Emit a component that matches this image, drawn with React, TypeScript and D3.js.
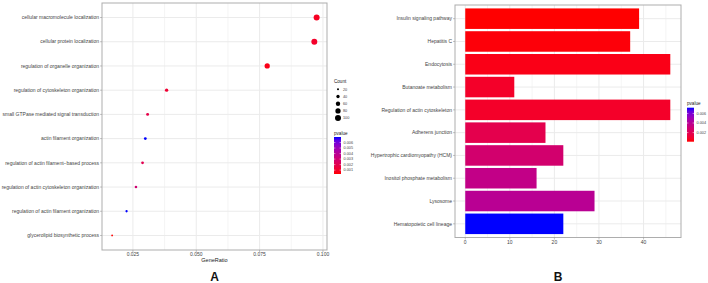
import * as d3 from 'd3';

// Panel A: GO enrichment dot plot
const goTerms = [
	'cellular macromolecule localization',
	'cellular protein localization',
	'regulation of organelle organization',
	'regulation of cytoskeleton organization',
	'small GTPase mediated signal transduction',
	'actin filament organization',
	'regulation of actin filament−based process',
	'regulation of actin cytoskeleton organization',
	'regulation of actin filament organization',
	'glycerolipid biosynthetic process',
];
const goRatio = [0.0975, 0.0966, 0.078, 0.0383, 0.0308, 0.0299, 0.0288, 0.0262, 0.0225, 0.0168];
const goCount = [100, 99, 80, 39, 32, 31, 30, 27, 23, 17];
const goPvalue = [0.0008, 0.001, 0.0006, 0.0012, 0.0018, 0.007, 0.002, 0.003, 0.007, 0.0003];
const goTicks = [0.025, 0.05, 0.075, 0.1];
const countLegend = [20, 40, 60, 80, 100];
const goPLegend = [0.006, 0.005, 0.004, 0.003, 0.002, 0.001];

// Panel B: KEGG bar chart
const keggTerms = [
	'Insulin signaling pathway',
	'Hepatitis C',
	'Endocytosis',
	'Butanoate metabolism',
	'Regulation of actin cytoskeleton',
	'Adherens junction',
	'Hypertrophic cardiomyopathy (HCM)',
	'Inositol phosphate metabolism',
	'Lysosome',
	'Hematopoietic cell lineage',
];
const keggCount = [39, 37, 46, 11, 46, 18, 22, 16, 29, 22];
const keggPvalue = [0.0001, 0.0002, 0.0004, 0.0008, 0.0008, 0.0018, 0.0028, 0.0036, 0.004, 0.0072];
const keggTicks = [0, 10, 20, 30, 40];
const keggPLegend = [0.006, 0.004, 0.002];

const FONT = 'Liberation Sans, Arial, sans-serif';
const GRID = '#ebebeb';
const BORDER = '#adadad';
const TEXT = '#444';

const colorScale = (vals: number[]) =>
	d3
		.scaleLinear<string>()
		.domain(d3.extent(vals) as [number, number])
		.range(['#ff0000', '#0000ff'])
		.interpolate(d3.interpolateLab);

const ColorBar = ({ id, vals, ticks, x, y0, y1, title }: any) => {
	const c = colorScale(vals);
	const [lo, hi] = d3.extent(vals) as [number, number];
	const ly = d3.scaleLinear().domain([lo, hi]).range([y1, y0]);
	const stops = d3.range(0, 1.0001, 0.1);
	return (
		<g>
			<defs>
				<linearGradient id={id} x1="0" y1="1" x2="0" y2="0">
					{stops.map((t) => (
						<stop key={t} offset={t} stopColor={c(lo + t * (hi - lo))} />
					))}
				</linearGradient>
			</defs>
			<text x={x} y={y0 - 2.5} fontSize={4.6} fill="#222">{title}</text>
			<rect x={x} y={y0} width={7} height={y1 - y0} fill={`url(#${id})`} />
			{ticks.map((t: number) => (
				<g key={t}>
					<line x1={x} x2={x + 1.4} y1={ly(t)} y2={ly(t)} stroke="white" strokeWidth={0.5} />
					<line x1={x + 5.6} x2={x + 7} y1={ly(t)} y2={ly(t)} stroke="white" strokeWidth={0.5} />
					<text x={x + 9.5} y={ly(t)} dy="0.35em" fontSize={3.8} fill={TEXT}>
						{d3.format('.3f')(t)}
					</text>
				</g>
			))}
		</g>
	);
};

const DotPanel = () => {
	const left = 102, right = 327, top = 3, bottom = 250;
	const x = d3.scaleLinear().domain([0.0128, 0.1016]).range([left, right]);
	const y = d3.scalePoint<string>().domain(goTerms).range([top, bottom]).padding(0.6);
	const r = d3.scaleSqrt().domain([17, 100]).range([0.9, 3]);
	const c = colorScale(goPvalue);
	const minor = goTicks.slice(0, -1).map((t, i) => (t + goTicks[i + 1]) / 2);
	return (
		<g>
			{minor.map((t) => (
				<line key={t} x1={x(t)} x2={x(t)} y1={top} y2={bottom} stroke={GRID} strokeWidth={0.5} />
			))}
			{goTicks.map((t) => (
				<line key={t} x1={x(t)} x2={x(t)} y1={top} y2={bottom} stroke={GRID} strokeWidth={1} />
			))}
			{goTerms.map((t) => (
				<line key={t} x1={left} x2={right} y1={y(t)} y2={y(t)} stroke={GRID} strokeWidth={1} />
			))}
			{goTerms.map((t, i) => (
				<circle key={t} cx={x(goRatio[i])} cy={y(t)} r={r(goCount[i])} fill={c(goPvalue[i])} />
			))}
			<rect x={left} y={top} width={right - left} height={bottom - top} fill="none" stroke={BORDER} strokeWidth={1} />
			{goTerms.map((t) => (
				<g key={t}>
					<line x1={left - 2} x2={left} y1={y(t)} y2={y(t)} stroke="#888" strokeWidth={0.5} />
					<text x={left - 3} y={y(t)} dy="0.35em" textAnchor="end" fontSize={5} fill={TEXT}>{t}</text>
				</g>
			))}
			{goTicks.map((t) => (
				<g key={t}>
					<line x1={x(t)} x2={x(t)} y1={bottom} y2={bottom + 2} stroke="#888" strokeWidth={0.5} />
					<text x={x(t)} y={bottom + 6} textAnchor="middle" fontSize={5} fill={TEXT}>{d3.format('.3f')(t)}</text>
				</g>
			))}
			<text x={(left + right) / 2} y={bottom + 12} textAnchor="middle" fontSize={5.5} fill="#222">GeneRatio</text>
			<text x={(left + right) / 2} y={281} textAnchor="middle" fontSize={12} fontWeight="bold" fill="#111">A</text>

			<text x={334} y={83} fontSize={4.6} fill="#222">Count</text>
			{countLegend.map((v, i) => (
				<g key={v}>
					<circle cx={338} cy={89.3 + i * 7.2} r={r(v)} fill="black" />
					<text x={343} y={89.3 + i * 7.2} dy="0.35em" fontSize={3.8} fill={TEXT}>{v}</text>
				</g>
			))}
			<ColorBar id="gA" vals={goPvalue} ticks={goPLegend} x={334} y0={137} y1={174} title="pvalue" />
		</g>
	);
};

const BarPanel = () => {
	const left = 455, right = 681, top = 5, bottom = 237.5;
	const x = d3.scaleLinear().domain([-2.3, 48.4]).range([left, right]);
	const y = d3.scaleBand<string>().domain(keggTerms).range([top, bottom]).paddingInner(0.1).paddingOuter(0.15);
	const c = colorScale(keggPvalue);
	const minor = [5, 15, 25, 35, 45];
	return (
		<g>
			{minor.map((t) => (
				<line key={t} x1={x(t)} x2={x(t)} y1={top} y2={bottom} stroke={GRID} strokeWidth={0.5} />
			))}
			{keggTicks.map((t) => (
				<line key={t} x1={x(t)} x2={x(t)} y1={top} y2={bottom} stroke={GRID} strokeWidth={1} />
			))}
			{keggTerms.map((t) => (
				<line key={t} x1={left} x2={right} y1={y(t)! + y.bandwidth() / 2} y2={y(t)! + y.bandwidth() / 2} stroke={GRID} strokeWidth={1} />
			))}
			{keggTerms.map((t, i) => (
				<rect key={t} x={x(0)} y={y(t)} width={x(keggCount[i]) - x(0)} height={y.bandwidth()} fill={c(keggPvalue[i])} />
			))}
			<rect x={left} y={top} width={right - left} height={bottom - top} fill="none" stroke={BORDER} strokeWidth={1} />
			{keggTerms.map((t) => {
				const cy = y(t)! + y.bandwidth() / 2;
				return (
					<g key={t}>
						<line x1={left - 2} x2={left} y1={cy} y2={cy} stroke="#888" strokeWidth={0.5} />
						<text x={left - 3} y={cy} dy="0.35em" textAnchor="end" fontSize={5} fill={TEXT}>{t}</text>
					</g>
				);
			})}
			{keggTicks.map((t) => (
				<g key={t}>
					<line x1={x(t)} x2={x(t)} y1={bottom} y2={bottom + 2} stroke="#888" strokeWidth={0.5} />
					<text x={x(t)} y={bottom + 6.5} textAnchor="middle" fontSize={5} fill={TEXT}>{t}</text>
				</g>
			))}
			<text x={558} y={281} textAnchor="middle" fontSize={12} fontWeight="bold" fill="#111">B</text>
			<ColorBar id="gB" vals={keggPvalue} ticks={keggPLegend} x={687} y0={107.7} y1={141.7} title="pvalue" />
		</g>
	);
};

export default function App() {
	return (
		<svg
			width={708}
			height={283}
			style={{ position: 'absolute', left: 0, top: 0, background: 'white' }}
			fontFamily={FONT}
		>
			<DotPanel />
			<BarPanel />
		</svg>
	);
}
